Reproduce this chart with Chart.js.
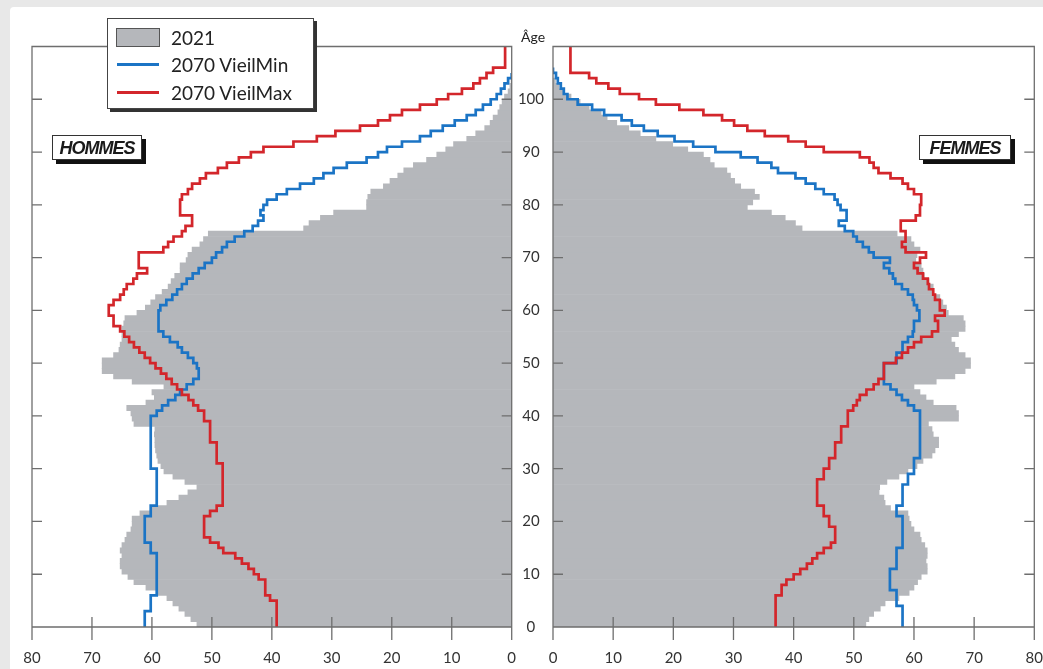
<!DOCTYPE html>
<html>
<head>
<meta charset="utf-8">
<script src="https://cdn.jsdelivr.net/npm/chart.js@4.4.1/dist/chart.umd.min.js"></script>
<style>
html,body{margin:0;padding:0;}
body{width:1043px;height:669px;background:#e8e8e8;position:relative;overflow:hidden;font-family:Lato,'Open Sans',sans-serif;}
#card{position:absolute;left:10px;top:7px;width:1033px;height:662px;background:#fff;border-top-left-radius:4px;}
canvas{position:absolute;top:0;}
#cMen{left:0;}
#cWomen{left:512px;}
.tag{position:absolute;top:135px;height:25px;box-sizing:border-box;background:#fff;border:1.3px solid #333;box-shadow:4px 4px 0 #111;font:italic bold 18px 'Liberation Sans',Arial,sans-serif;letter-spacing:-1px;color:#1a1a1a;text-align:center;line-height:21px;padding-top:2px;}
#tagMen{left:52px;width:90px;}
#tagWomen{left:919px;width:92px;}
#age{position:absolute;left:521px;top:29px;font-size:14px;line-height:16px;color:#222;}
#legend{position:absolute;left:107px;top:18px;width:207px;height:91px;box-sizing:border-box;background:#fff;border:1.3px solid #444;box-shadow:3px 3px 0 #333;}
#legend .sw{position:absolute;left:8px;top:9px;width:44px;height:19px;box-sizing:border-box;background:#b5b7bb;border:1.3px solid #555;}
#legend .ln{position:absolute;left:9px;width:42px;height:3px;}
#legend .tx{position:absolute;left:63px;font-size:19px;line-height:22px;color:#222;white-space:nowrap;}
</style>
</head>
<body>
<div id="card"></div>
<canvas id="cMen" width="530" height="669"></canvas>
<canvas id="cWomen" width="531" height="669"></canvas>
<div id="age">Âge</div>
<div class="tag" id="tagMen">HOMMES</div>
<div class="tag" id="tagWomen">FEMMES</div>
<div id="legend">
  <div class="sw"></div><div class="tx" style="top:8px">2021</div>
  <div class="ln" style="top:44px;background:#1b74c5"></div><div class="tx" style="top:35px">2070 VieilMin</div>
  <div class="ln" style="top:72px;background:#d3262b"></div><div class="tx" style="top:63px">2070 VieilMax</div>
</div>
<script>
// ---- Data (values per single year of age, starting at age 0) ----
const AGE_TICKS = [10,20,30,40,50,60,70,80,90,100];

const menPop2021 = [
52.5,53.5,54.5,55.5,56.5,57.5,59,61,63,64,
65,65.3,65.3,65,65.3,65,64.5,64.2,63.5,63.3,
63.3,62,60,57.5,55.5,54,52.5,54.5,56.5,58,
58.5,59,59.2,59.4,59.5,59.5,59.6,59.5,63,63.3,
63.5,64.2,61,59.6,60,58,63.3,66.4,68.3,68.3,
68.3,66.4,65.5,65.3,65,65,65,64.7,64.5,62.5,
61.1,60.2,59.4,58.3,57.3,56.8,56.2,55.3,55.3,54.3,
54,53.3,52,51.4,50.6,34.7,33.8,31.9,29.7,24.2,
24.2,24,23.5,21.4,20.3,19,18,16.4,14.2,12.5,
11,9.7,7.5,6,4.5,3.6,3.1,2.3,2,1.6,
1.2,0.6,0.3,0.1];

const menVieilMin = [
61.2,61.2,61.2,60.2,60.2,60.2,59.2,59.2,59.2,59.2,
59.2,59.2,59.2,59.2,60.2,60.2,61.2,61.2,61.2,61.2,
61.2,60.2,60.2,59.2,59.2,59.2,59.2,59.2,59.2,59.2,
60.2,60.2,60.2,60.2,60.2,60.2,60.2,60.2,60.2,60.2,
59.2,58.3,57.3,56.1,55.3,54.2,53.1,52.2,52.2,52.5,
53.1,54,55,55.7,57,58.1,58.9,58.9,58.9,58.9,
58.6,57.6,56.6,55.8,55,54.2,53.2,52.2,51.2,50,
49.3,48.3,47.5,46.2,44.6,43.2,42.3,41.4,41.9,41.4,
40.8,39.2,37.5,35.3,33,31.4,29.7,27.5,24.2,22.3,
20.8,18.3,15.3,13.5,11.5,9.5,7.5,6,4.8,3.5,
2.5,1.8,1.2,0.6,0];

const menVieilMax = [
39.2,39.2,39.2,39.2,39.2,40.3,41.1,41.1,41.1,42.2,
43,43.9,45,46.1,48.1,48.9,50.3,51.3,51.3,51.3,
51.3,50.3,49.2,48.2,48.2,48.2,48.2,48.2,48.2,48.2,
48.2,49.2,49.2,49.2,49.2,50.3,50.3,50.3,50.3,51.3,
51.3,52.3,53.1,53.9,55,55.8,56.7,57.6,58.5,59.4,
60.3,61.2,62.1,63,63.8,64.6,65.3,66.4,66.4,67.2,
67.2,66.4,65.3,64.7,64.2,63.1,62.5,60.8,62.2,62.2,
62.2,58.1,57.3,56.4,55,54.4,53.3,53.3,55.3,55.3,
55.3,55,54,53.3,52,51,49,47.5,45.5,43.5,
41.4,36.4,32.5,29.4,25.3,22.3,20.3,18.3,15.3,12.5,
10.6,8.3,6.4,5.3,4.2,3.1,1.1,1.1,1.1,1.1];

const womenPop2021 = [
52,52.5,53.3,54.4,55.2,57.5,59.2,60,60.6,61.2,
62.2,62.2,62,62.2,62.2,61.8,61.2,61,60,59.5,
59.2,59,56.1,55.2,55,54.2,54.3,55.5,57.5,59,
60.5,61.5,63,63.5,64.1,64.1,63.2,63,62.4,67.4,
67.4,67,63.2,62,61,60,63.7,66.8,68.5,69.4,
69.4,68.5,67.4,66.8,66.2,67.4,68.5,68.5,68.2,65.7,
65.4,64.8,64.3,63.2,63.2,62.5,61.7,61.5,61.2,60.3,
60.5,61,60,59.5,57.2,41.4,40.3,38.6,36.3,32.3,
33.2,34.3,33.5,31.2,30.2,29.5,28.9,26.8,26.1,25,
22.4,19.9,17.1,14.5,12.6,10.6,9,8,6,4.5,
3,1.8,1,0.4];

const womenVieilMin = [
58.1,58.1,58.1,58.1,57.1,57.1,57.1,56,56,56,
56,57.1,57.1,57.1,57.1,58.1,58.1,58.1,58.1,58.1,
58.1,57.1,57.1,58.1,58.1,58.1,58.1,59,59,60,
60,60,61,61,61,61,61,61,61,61,
61,60,59,58,57.1,56.1,55,55,55,55,
57.1,57.1,58.1,58.1,59,59.8,60,60,60.9,60.9,
60.5,60,59.8,59,58,56.9,56.5,55.9,55,56,
53.3,52.5,51.5,50.5,49.9,48.5,47.5,48.8,48.8,47.8,
47.3,46.8,45,43.6,42,40.3,37.4,36.3,34,31.2,
27,23.3,20.2,17.4,15.1,13.1,11.4,8.5,6.5,4.1,
2.4,1.8,1.3,0.8,0.5,0];

const womenVieilMax = [
37,37,37,37,37,37,38,38,38.8,40,
41.1,42.2,43.1,43.9,45,46.2,46.9,46.9,46.9,45.9,
45.9,45,45,43.9,43.9,43.9,43.9,43.9,45,45,
45.9,45.9,46.9,46.9,46.9,47.9,47.9,47.9,49,49,
49,49.9,50.5,51,52.1,53.3,54.1,55,55,55,
57,58,59,60,61.2,63,64,64,63.5,65.1,
64.3,64.3,63.5,63.2,62.5,62.3,61.5,60.6,60,61,
62,58.6,58,58.6,58.6,57.8,57.8,60.3,61,61,
61.2,61.2,60,59,58.1,56.1,54.1,53.3,52.6,51,
45,42,39.1,35.2,32.3,30.1,28.1,25,21,17.1,
14.3,11.1,9.2,7.2,6,2.9,2.9,2.9,2.9,2.9];

// ---- Styling ----
const GRAY = '#b5b7bb', BLUE = '#1b74c5', RED = '#d3262b', FRAME = '#6e6e6e';
Chart.defaults.font.family = "Lato, 'Open Sans', sans-serif";

// a bar for age a covers [a, a+1]
const barPoints = arr => arr.map((v, i) => ({ x: v, y: i + 0.5 }));
// stepped line: vertical at value v over [a, a+1], closing point at the top of the last age
const stepPoints = arr => arr.map((v, i) => ({ x: v, y: i })).concat([{ x: arr[arr.length - 1], y: arr.length }]);

const framePlugin = {
  id: 'frame',
  afterDatasetsDraw(chart) {
    const { ctx, chartArea: a, scales: { x, y } } = chart;
    ctx.save();
    ctx.strokeStyle = FRAME;
    ctx.lineWidth = 1.3;
    ctx.beginPath();
    ctx.rect(a.left, a.top, a.right - a.left, a.bottom - a.top);
    x.ticks.forEach(t => {
      const px = x.getPixelForValue(t.value);
      ctx.moveTo(px, a.bottom - 10);
      ctx.lineTo(px, a.bottom + 13);
    });
    AGE_TICKS.forEach(v => {
      const py = y.getPixelForValue(v);
      ctx.moveTo(a.left, py); ctx.lineTo(a.left + 10, py);
      ctx.moveTo(a.right - 10, py); ctx.lineTo(a.right, py);
    });
    ctx.stroke();
    ctx.restore();
  }
};

function makeChart(id, isMen, pop, vmin, vmax) {
  return new Chart(document.getElementById(id), {
    type: 'bar',
    data: {
      datasets: [
        { type: 'line', label: '2070 VieilMax', data: stepPoints(vmax), borderColor: RED, borderWidth: 2.7,
          pointRadius: 0, stepped: 'after', fill: false, order: 0 },
        { type: 'line', label: '2070 VieilMin', data: stepPoints(vmin), borderColor: BLUE, borderWidth: 2.7,
          pointRadius: 0, stepped: 'after', fill: false, order: 1 },
        { type: 'bar', label: '2021', data: barPoints(pop), backgroundColor: GRAY, borderWidth: 0,
          barPercentage: 1, categoryPercentage: 1, order: 2 }
      ]
    },
    options: {
      indexAxis: 'y',
      responsive: false,
      animation: false,
      layout: { padding: isMen ? { left: 32, right: 18.3, top: 46.5, bottom: 0 }
                               : { left: 0, right: 8.3, top: 46.5, bottom: 0 } },
      plugins: { legend: { display: false }, tooltip: { enabled: false } },
      scales: {
        x: {
          type: 'linear', min: 0, max: 80, reverse: isMen, offset: false,
          ticks: { stepSize: 10, padding: 0, color: '#333', font: { size: 15 } },
          grid: { display: false, drawTicks: true, tickLength: 22 }, border: { display: false },
          afterFit: s => { s.height = 42; }
        },
        y: {
          type: 'linear', min: 0, max: 110, offset: false, display: !isMen, position: 'left',
          ticks: { stepSize: 10, crossAlign: 'center', padding: 9, color: '#333', font: { size: 15 },
                   callback: v => (v <= 100 ? v : '') },
          grid: { display: false, drawTicks: false }, border: { display: false },
          afterFit: s => { s.width = isMen ? 0 : 41; }
        }
      }
    },
    plugins: [framePlugin]
  });
}

makeChart('cMen', true, menPop2021, menVieilMin, menVieilMax);
makeChart('cWomen', false, womenPop2021, womenVieilMin, womenVieilMax);
</script>
</body>
</html>
